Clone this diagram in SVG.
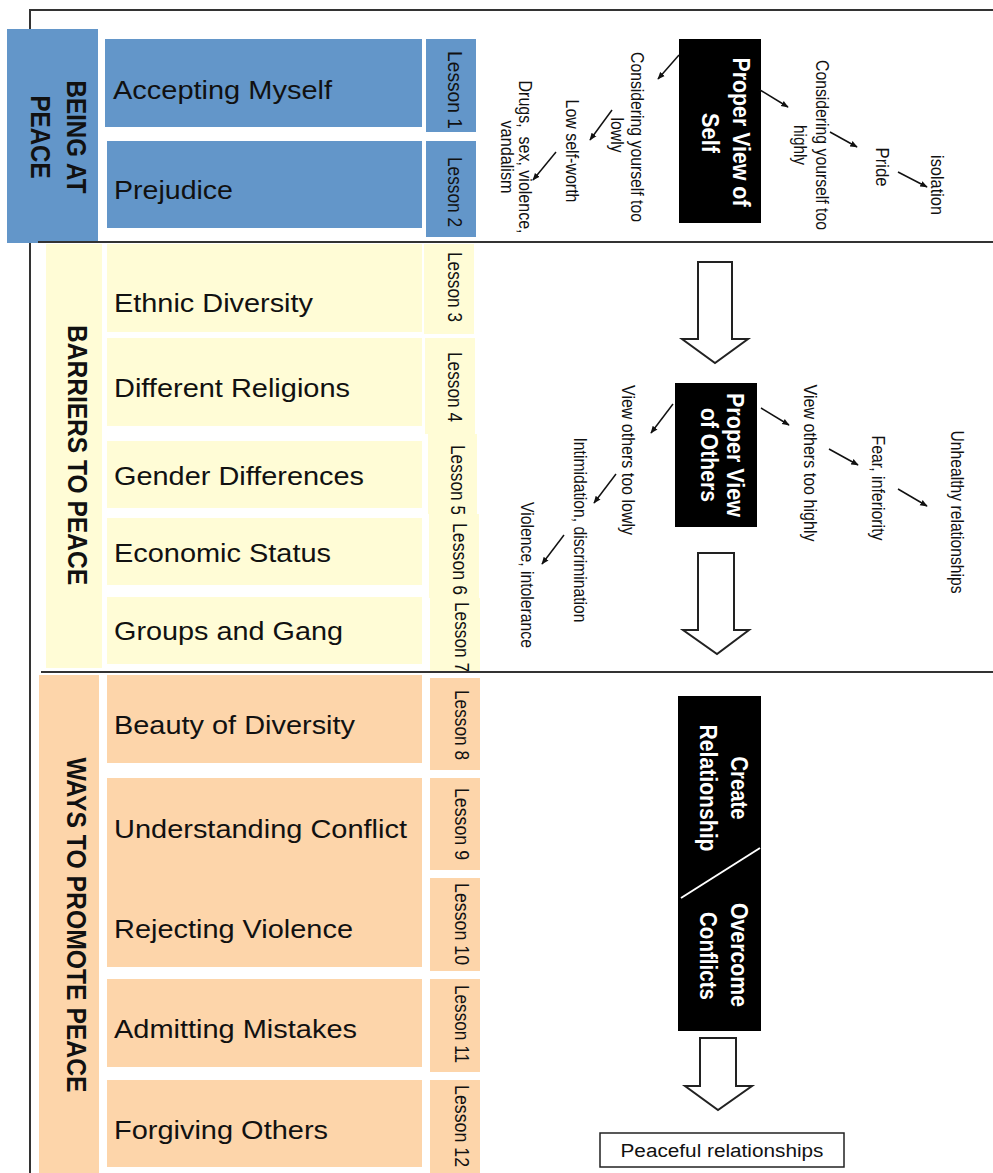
<svg xmlns="http://www.w3.org/2000/svg" width="993" height="1173" viewBox="0 0 993 1173">
<style>
.blue{fill:#6396c9}
.yel{fill:#fffcd6}
.org{fill:#fdd5aa}
.item{font-family:"Liberation Sans",Arial,sans-serif;font-size:25px;fill:#111}
.grp{font-family:"Liberation Sans",Arial,sans-serif;font-size:24px;font-weight:bold;fill:#111}
.les{font-family:"Liberation Sans",Arial,sans-serif;font-size:17.5px;fill:#111}
.lbl{font-family:"Liberation Sans",Arial,sans-serif;font-size:16px;fill:#111}
.wht{font-family:"Liberation Sans",Arial,sans-serif;font-size:21px;font-weight:bold;fill:#fff}
.frame{stroke:#333;stroke-width:2;fill:none}
.thin{stroke:#111;stroke-width:1.5;fill:none;marker-end:url(#ah)}
.big{fill:#fff;stroke:#222;stroke-width:2;stroke-linejoin:miter}
</style>
<defs>
<marker id="ah" viewBox="0 0 10 10" refX="9" refY="5" markerWidth="5" markerHeight="5" orient="auto"><path d="M0,1 L10,5 L0,9 z" fill="#111"/></marker>
</defs>
<rect width="993" height="1173" fill="#fff"/>
<!-- frame -->
<path class="frame" d="M30,1173 V10 H993"/>

<!-- BEING AT PEACE -->
<g id="being-at-peace">
<rect class="blue" x="7" y="29" width="91" height="214"/>
<text class="grp" text-anchor="middle" dominant-baseline="central" transform="translate(77,137) scale(1.17,1) rotate(90)" textLength="113" lengthAdjust="spacingAndGlyphs">BEING AT</text>
<text class="grp" text-anchor="middle" dominant-baseline="central" transform="translate(41,137) scale(1.17,1) rotate(90)" textLength="83" lengthAdjust="spacingAndGlyphs">PEACE</text>
</g>
<g id="accepting-myself">
<rect class="blue" x="105" y="39" width="317" height="88"/>
<text class="item" x="113" y="99" textLength="219" lengthAdjust="spacingAndGlyphs">Accepting Myself</text>
<rect class="blue" x="426" y="39" width="50" height="93"/>
<text class="les" text-anchor="middle" dominant-baseline="central" transform="translate(455,90) scale(1.17,1) rotate(90)" textLength="78" lengthAdjust="spacingAndGlyphs">Lesson 1</text>
</g>
<g id="prejudice">
<rect class="blue" x="107" y="141" width="315" height="87"/>
<text class="item" x="114" y="199" textLength="119" lengthAdjust="spacingAndGlyphs">Prejudice</text>
<rect class="blue" x="426" y="141" width="50" height="96"/>
<text class="les" text-anchor="middle" dominant-baseline="central" transform="translate(455,192) scale(1.17,1) rotate(90)" textLength="70" lengthAdjust="spacingAndGlyphs">Lesson 2</text>
</g>

<!-- BARRIERS TO PEACE -->
<g id="barriers-to-peace">
<rect class="yel" x="46" y="244" width="56" height="424"/>
<text class="grp" text-anchor="middle" dominant-baseline="central" transform="translate(78,455) scale(1.17,1) rotate(90)" textLength="260" lengthAdjust="spacingAndGlyphs">BARRIERS TO PEACE</text>
</g>
<g id="ethnic-diversity">
<rect class="yel" x="107" y="244" width="315" height="88"/>
<text class="item" x="114" y="312" textLength="199" lengthAdjust="spacingAndGlyphs">Ethnic Diversity</text>
<rect class="yel" x="424" y="244" width="50" height="90"/>
<text class="les" text-anchor="middle" dominant-baseline="central" transform="translate(455,287) scale(1.17,1) rotate(90)" textLength="70" lengthAdjust="spacingAndGlyphs">Lesson 3</text>
</g>
<g id="different-religions">
<rect class="yel" x="107" y="338" width="315" height="88"/>
<text class="item" x="114" y="397" textLength="236" lengthAdjust="spacingAndGlyphs">Different Religions</text>
<rect class="yel" x="425" y="338" width="50" height="96"/>
<text class="les" text-anchor="middle" dominant-baseline="central" transform="translate(455,387) scale(1.17,1) rotate(90)" textLength="70" lengthAdjust="spacingAndGlyphs">Lesson 4</text>
</g>
<g id="gender-differences">
<rect class="yel" x="107" y="441" width="315" height="67"/>
<text class="item" x="114" y="485" textLength="250" lengthAdjust="spacingAndGlyphs">Gender Differences</text>
<rect class="yel" x="428" y="434" width="49" height="80"/>
<text class="les" text-anchor="middle" dominant-baseline="central" transform="translate(458,480) scale(1.17,1) rotate(90)" textLength="70" lengthAdjust="spacingAndGlyphs">Lesson 5</text>
</g>
<g id="economic-status">
<rect class="yel" x="107" y="518" width="315" height="67"/>
<text class="item" x="114" y="562" textLength="217" lengthAdjust="spacingAndGlyphs">Economic Status</text>
<rect class="yel" x="429" y="514" width="50" height="84"/>
<text class="les" text-anchor="middle" dominant-baseline="central" transform="translate(460,559) scale(1.17,1) rotate(90)" textLength="72" lengthAdjust="spacingAndGlyphs">Lesson 6</text>
</g>
<g id="groups-and-gang">
<rect class="yel" x="107" y="597" width="315" height="67"/>
<text class="item" x="114" y="640" textLength="229" lengthAdjust="spacingAndGlyphs">Groups and Gang</text>
<rect class="yel" x="430" y="598" width="50" height="74"/>
<text class="les" text-anchor="middle" dominant-baseline="central" transform="translate(462,637) scale(1.17,1) rotate(90)" textLength="70" lengthAdjust="spacingAndGlyphs">Lesson 7</text>
</g>

<!-- WAYS TO PROMOTE PEACE -->
<g id="ways-to-promote-peace">
<rect class="org" x="39" y="675" width="60" height="498"/>
<text class="grp" text-anchor="middle" dominant-baseline="central" transform="translate(77,925) scale(1.17,1) rotate(90)" textLength="335" lengthAdjust="spacingAndGlyphs">WAYS TO PROMOTE PEACE</text>
</g>
<g id="beauty-of-diversity">
<rect class="org" x="107" y="675" width="315" height="88"/>
<text class="item" x="114" y="734" textLength="241" lengthAdjust="spacingAndGlyphs">Beauty of Diversity</text>
<rect class="org" x="430" y="678" width="50" height="92"/>
<text class="les" text-anchor="middle" dominant-baseline="central" transform="translate(462,725) scale(1.17,1) rotate(90)" textLength="70" lengthAdjust="spacingAndGlyphs">Lesson 8</text>
</g>
<g id="conflict-violence">
<rect class="org" x="107" y="778" width="315" height="189"/>
<text class="item" x="114" y="838" textLength="293" lengthAdjust="spacingAndGlyphs">Understanding Conflict</text>
<text class="item" x="114" y="938" textLength="239" lengthAdjust="spacingAndGlyphs">Rejecting Violence</text>
<rect class="org" x="430" y="778" width="50" height="92"/>
<text class="les" text-anchor="middle" dominant-baseline="central" transform="translate(462,824) scale(1.17,1) rotate(90)" textLength="72" lengthAdjust="spacingAndGlyphs">Lesson 9</text>
<rect class="org" x="430" y="878" width="50" height="93"/>
<text class="les" text-anchor="middle" dominant-baseline="central" transform="translate(462,924) scale(1.17,1) rotate(90)" textLength="82" lengthAdjust="spacingAndGlyphs">Lesson 10</text>
</g>
<g id="admitting-mistakes">
<rect class="org" x="107" y="979" width="315" height="88"/>
<text class="item" x="114" y="1038" textLength="243" lengthAdjust="spacingAndGlyphs">Admitting Mistakes</text>
<rect class="org" x="430" y="979" width="50" height="93"/>
<text class="les" text-anchor="middle" dominant-baseline="central" transform="translate(462,1024) scale(1.17,1) rotate(90)" textLength="78" lengthAdjust="spacingAndGlyphs">Lesson 11</text>
</g>
<g id="forgiving-others">
<rect class="org" x="107" y="1080" width="315" height="87"/>
<text class="item" x="114" y="1139" textLength="214" lengthAdjust="spacingAndGlyphs">Forgiving Others</text>
<rect class="org" x="430" y="1080" width="50" height="93"/>
<text class="les" text-anchor="middle" dominant-baseline="central" transform="translate(462,1126) scale(1.17,1) rotate(90)" textLength="82" lengthAdjust="spacingAndGlyphs">Lesson 12</text>
</g>

<!-- separators -->
<path class="frame" d="M38,242 H993 M41,672 H993"/>

<!-- Right: Proper view of self -->
<g id="proper-view-self">
<rect x="679" y="39" width="82" height="184" fill="#000"/>
<text class="wht" text-anchor="middle" dominant-baseline="central" transform="translate(742,132) scale(1.17,1) rotate(90)" textLength="149" lengthAdjust="spacingAndGlyphs">Proper View of</text>
<text class="wht" text-anchor="middle" dominant-baseline="central" transform="translate(711,133) scale(1.17,1) rotate(90)" textLength="40" lengthAdjust="spacingAndGlyphs">Self</text>
</g>
<g id="self-low">
<text class="lbl" text-anchor="middle" dominant-baseline="central" transform="translate(637,137) scale(1.17,1) rotate(90)" textLength="170" lengthAdjust="spacingAndGlyphs">Considering yourself too</text>
<text class="lbl" text-anchor="middle" dominant-baseline="central" transform="translate(617,135) scale(1.17,1) rotate(90)" textLength="35" lengthAdjust="spacingAndGlyphs">lowly</text>
</g>
<g id="self-worth">
<text class="lbl" text-anchor="middle" dominant-baseline="central" transform="translate(572,151) scale(1.17,1) rotate(90)" textLength="103" lengthAdjust="spacingAndGlyphs">Low self-worth</text>
</g>
<g id="drugs">
<text class="lbl" text-anchor="middle" dominant-baseline="central" transform="translate(525,157) scale(1.17,1) rotate(90)" textLength="153" lengthAdjust="spacingAndGlyphs" xml:space="preserve">Drugs,  sex, violence,</text>
<text class="lbl" text-anchor="middle" dominant-baseline="central" transform="translate(507,157) scale(1.17,1) rotate(90)" textLength="73" lengthAdjust="spacingAndGlyphs">vandalism</text>
</g>
<g id="self-high">
<text class="lbl" text-anchor="middle" dominant-baseline="central" transform="translate(822,145) scale(1.17,1) rotate(90)" textLength="170" lengthAdjust="spacingAndGlyphs">Considering yourself too</text>
<text class="lbl" text-anchor="middle" dominant-baseline="central" transform="translate(800,145) scale(1.17,1) rotate(90)" textLength="40" lengthAdjust="spacingAndGlyphs">highly</text>
</g>
<g id="pride">
<text class="lbl" text-anchor="middle" dominant-baseline="central" transform="translate(882,167) scale(1.17,1) rotate(90)" textLength="39" lengthAdjust="spacingAndGlyphs">Pride</text>
</g>
<g id="isolation">
<text class="lbl" text-anchor="middle" dominant-baseline="central" transform="translate(937,185) scale(1.17,1) rotate(90)" textLength="60" lengthAdjust="spacingAndGlyphs">isolation</text>
</g>

<!-- Proper view of others -->
<g id="proper-view-others">
<rect x="675" y="383" width="82" height="144" fill="#000"/>
<text class="wht" text-anchor="middle" dominant-baseline="central" transform="translate(736,455) scale(1.17,1) rotate(90)" textLength="124" lengthAdjust="spacingAndGlyphs">Proper View</text>
<text class="wht" text-anchor="middle" dominant-baseline="central" transform="translate(710,455) scale(1.17,1) rotate(90)" textLength="94" lengthAdjust="spacingAndGlyphs">of Others</text>
</g>
<g id="others-low">
<text class="lbl" text-anchor="middle" dominant-baseline="central" transform="translate(628,460) scale(1.17,1) rotate(90)" textLength="150" lengthAdjust="spacingAndGlyphs">View others too lowly</text>
</g>
<g id="intimidation">
<text class="lbl" text-anchor="middle" dominant-baseline="central" transform="translate(580,530) scale(1.17,1) rotate(90)" textLength="185" lengthAdjust="spacingAndGlyphs">Intimidation, discrimination</text>
</g>
<g id="violence">
<text class="lbl" text-anchor="middle" dominant-baseline="central" transform="translate(527,575) scale(1.17,1) rotate(90)" textLength="146" lengthAdjust="spacingAndGlyphs">Violence, intolerance</text>
</g>
<g id="others-high">
<text class="lbl" text-anchor="middle" dominant-baseline="central" transform="translate(810,463) scale(1.17,1) rotate(90)" textLength="157" lengthAdjust="spacingAndGlyphs">View others too highly</text>
</g>
<g id="fear">
<text class="lbl" text-anchor="middle" dominant-baseline="central" transform="translate(878,488) scale(1.17,1) rotate(90)" textLength="105" lengthAdjust="spacingAndGlyphs">Fear, inferiority</text>
</g>
<g id="unhealthy">
<text class="lbl" text-anchor="middle" dominant-baseline="central" transform="translate(957,512) scale(1.17,1) rotate(90)" textLength="163" lengthAdjust="spacingAndGlyphs">Unhealthy relationships</text>
</g>

<!-- bottom -->
<g id="create-overcome">
<rect x="678" y="696" width="83" height="335" fill="#000"/>
<line x1="681" y1="898" x2="760" y2="848" stroke="#fff" stroke-width="2"/>
<text class="wht" text-anchor="middle" dominant-baseline="central" transform="translate(740,788) scale(1.17,1) rotate(90)" textLength="63" lengthAdjust="spacingAndGlyphs">Create</text>
<text class="wht" text-anchor="middle" dominant-baseline="central" transform="translate(709,788) scale(1.17,1) rotate(90)" textLength="127" lengthAdjust="spacingAndGlyphs">Relationship</text>
<text class="wht" text-anchor="middle" dominant-baseline="central" transform="translate(740,955) scale(1.17,1) rotate(90)" textLength="104" lengthAdjust="spacingAndGlyphs">Overcome</text>
<text class="wht" text-anchor="middle" dominant-baseline="central" transform="translate(709,956) scale(1.17,1) rotate(90)" textLength="88" lengthAdjust="spacingAndGlyphs">Conflicts</text>
</g>
<g id="peaceful">
<rect x="600" y="1133" width="244" height="34" fill="#fff" stroke="#222" stroke-width="1.5"/>
<text class="lbl" x="722" y="1157" text-anchor="middle" style="font-size:18px" textLength="203" lengthAdjust="spacingAndGlyphs">Peaceful relationships</text>
</g>

<!-- connectors -->
<g id="connectors">
<line class="thin" x1="679" y1="55" x2="658" y2="79"/>
<line class="thin" x1="760" y1="90" x2="788" y2="107"/>
<line class="thin" x1="612" y1="110" x2="590" y2="140"/>
<line class="thin" x1="556" y1="152" x2="533" y2="180"/>
<line class="thin" x1="830" y1="132" x2="857" y2="147"/>
<line class="thin" x1="898" y1="172" x2="927" y2="187"/>
<line class="thin" x1="673" y1="404" x2="651" y2="433"/>
<line class="thin" x1="761" y1="408" x2="789" y2="425"/>
<line class="thin" x1="616" y1="474" x2="594" y2="503"/>
<line class="thin" x1="564" y1="535" x2="542" y2="564"/>
<line class="thin" x1="829" y1="449" x2="858" y2="465"/>
<line class="thin" x1="898" y1="489" x2="927" y2="506"/>
<polygon class="big" points="698,262 732,262 732,339 748,339 715,363 682,339 698,339"/>
<polygon class="big" points="698,553 734,553 734,630 749,630 717,654 683,630 698,630"/>
<polygon class="big" points="700,1038 736,1038 736,1086 752,1086 718,1110 685,1086 700,1086"/>
</g>
</svg>
